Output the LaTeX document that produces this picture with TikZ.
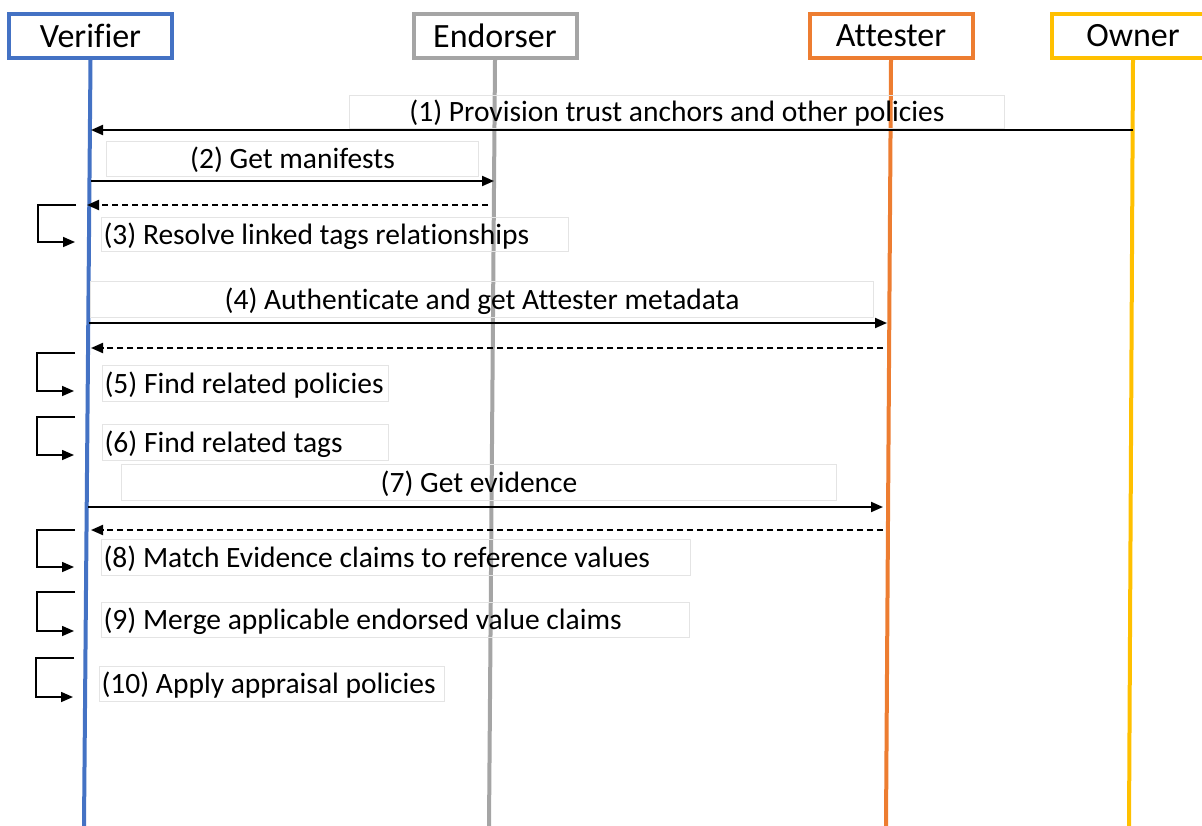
\documentclass[tikz,border=0pt]{standalone}
\usepackage{fontspec}
\setmainfont{Carlito}[Ligatures=NoCommon]
\usetikzlibrary{arrows.meta}
\definecolor{verblue}{HTML}{4472C4}
\definecolor{endgray}{HTML}{A5A5A5}
\definecolor{attorange}{HTML}{ED7D31}
\definecolor{owngold}{HTML}{FFC000}
\definecolor{lblframe}{HTML}{E4E4E4}
\newcommand{\lefttext}[2]{\makebox[#1][l]{#2}}
\begin{document}
\begin{tikzpicture}[x=1pt,y=-1pt,
  actor/.style={draw, line width=4pt, fill=white, minimum width=163pt, minimum height=44pt,
    inner sep=0pt, font=\fontsize{34}{38}\selectfont},
  lifeline/.style={line width=4pt},
  msg/.style={line width=2pt, -{Triangle[length=12pt,width=10pt]}},
  reply/.style={msg, dash pattern=on 6pt off 4pt},
  lbl/.style={draw=lblframe, line width=1pt, anchor=north west, inner sep=0pt,
    text height=22pt, text depth=3pt, font=\fontsize{29.5}{33}\selectfont},
  lbll/.style={lbl, inner xsep=2pt},
]
\useasboundingbox (0,0) rectangle (1202,825);
\clip (0,0) rectangle (1202,825);

% participants
\node[actor, draw=verblue]   (ver) at (90.5,36) {Verifier};
\node[actor, draw=endgray]   (end) at (495,36)  {Endorser};
\node[actor, draw=attorange] (att) at (891,36)  {Attester};
\node[actor, draw=owngold]   (own) at (1133,36) {Owner};

% lifeline ends
\coordinate (verB) at (84,826);
\coordinate (endB) at (489,826);
\coordinate (attB) at (886,826);
\coordinate (ownB) at (1129,826);
\draw[lifeline, verblue]   (ver.south) -- (verB);
\draw[lifeline, endgray]   (end.south) -- (endB);
\draw[lifeline, attorange] (att.south) -- (attB);
\draw[lifeline, owngold]   (own.south) -- (ownB);

% message labels
\node[lbl, minimum width=655pt, minimum height=33pt] (l1) at (349,95)
  {(1) Provision trust anchors and other policies};
\node[lbl, minimum width=372pt, minimum height=35pt] (l2) at (106,141)
  {(2) Get manifests};
\node[lbll, minimum height=34pt] (l3) at (101,217)
  {\lefttext{463pt}{(3) Resolve linked tags relationships}};
\node[lbl, minimum width=783pt, minimum height=36pt] (l4) at (90,281)
  {(4) Authenticate and get Attester metadata};
\node[lbll, minimum height=36pt] (l5) at (102,365)
  {\lefttext{282pt}{(5) Find related policies}};
\node[lbll, minimum height=36pt] (l6) at (102,424)
  {\lefttext{282pt}{(6) Find related tags}};
\node[lbl, minimum width=715pt, minimum height=36pt] (l7) at (121,464)
  {(7) Get evidence};
\node[lbll, minimum height=36pt] (l8) at (101,539)
  {\lefttext{585pt}{(8) Match Evidence claims to reference values}};
\node[lbll, minimum height=35pt] (l9) at (101,602)
  {\lefttext{584pt}{(9) Merge applicable endorsed value claims}};
\node[lbll, minimum height=35pt] (l10) at (99,666)
  {\lefttext{341pt}{(10) Apply appraisal policies}};

% message end points
\coordinate (m1s) at (1133,130);  \coordinate (m1e) at (91,130);
\coordinate (m2s) at (91,181);    \coordinate (m2e) at (494,181);
\coordinate (r2s) at (488,205);   \coordinate (r2e) at (87,205);
\coordinate (m4s) at (89,323);    \coordinate (m4e) at (887,323);
\coordinate (r4s) at (883,348);   \coordinate (r4e) at (91,348);
\coordinate (m7s) at (88,507);    \coordinate (m7e) at (883,507);
\coordinate (r7s) at (883,530);   \coordinate (r7e) at (91,530);

\draw[msg]   (m1s) -- (m1e);
\draw[msg]   (m2s) -- (m2e);
\draw[reply] (r2s) -- (r2e);
\draw[msg]   (m4s) -- (m4e);
\draw[reply] (r4s) -- (r4e);
\draw[msg]   (m7s) -- (m7e);
\draw[reply] (r7s) -- (r7e);

% self messages on the Verifier
\coordinate (s3a) at (76,205);  \coordinate (s3b) at (75,242);
\coordinate (s5a) at (75,353);  \coordinate (s5b) at (74,391);
\coordinate (s6a) at (75,417);  \coordinate (s6b) at (74,455);
\coordinate (s8a) at (75,530);  \coordinate (s8b) at (74,567);
\coordinate (s9a) at (75,592);  \coordinate (s9b) at (74,631);
\coordinate (s10a) at (74,658); \coordinate (s10b) at (73,697);
\foreach \s in {3,5,6,8,9,10}
  \draw[msg, line width=1.6pt] (s\s a) -- ++(-38,0) |- (s\s b);
\end{tikzpicture}
\end{document}
